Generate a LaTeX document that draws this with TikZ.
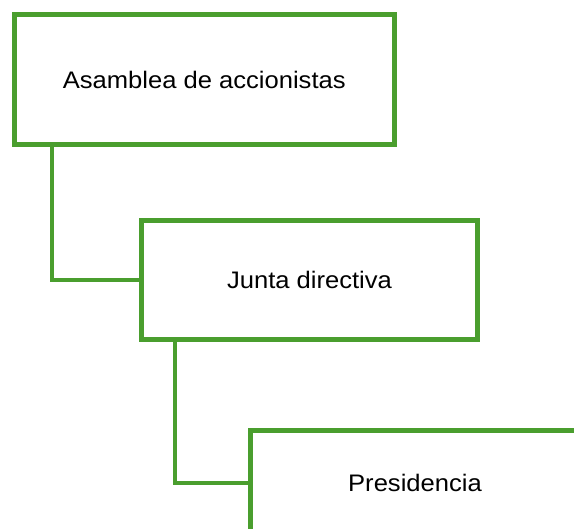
\documentclass[tikz,border=0pt]{standalone}
\usepackage{fontspec}
\setmainfont[FakeStretch=1.07]{Liberation Sans}
\definecolor{grn}{HTML}{4A9E2E}
\tikzset{
  boxtext/.style={font=\fontsize{23.9}{28}\selectfont},
  orgbox/.style={draw=grn, line width=5pt, fill=white, minimum width=#1, inner sep=0pt, boxtext},
  link/.style={draw=grn, line width=3.5pt}
}
\begin{document}
\begin{tikzpicture}[x=1pt,y=-1pt]
\useasboundingbox (0,0) rectangle (574,529);
\clip (0,0) rectangle (574,529);
\node[orgbox=379.5pt, minimum height=130pt] (a) at (204.25,79.5) {Asamblea de accionistas};
\node[orgbox=336pt, minimum height=118.5pt] (b) at (309.5,280.25) {Junta directiva};
\node[orgbox=330pt, minimum height=118.5pt] (c) at (415,490) {};
\node[boxtext] (ct) at (415,483) {Presidencia};
\draw[link] (a.south -| 52,0) |- (b.west);
\draw[link] (b.south -| 175,0) |- (ct -| c.west);
\end{tikzpicture}
\end{document}
